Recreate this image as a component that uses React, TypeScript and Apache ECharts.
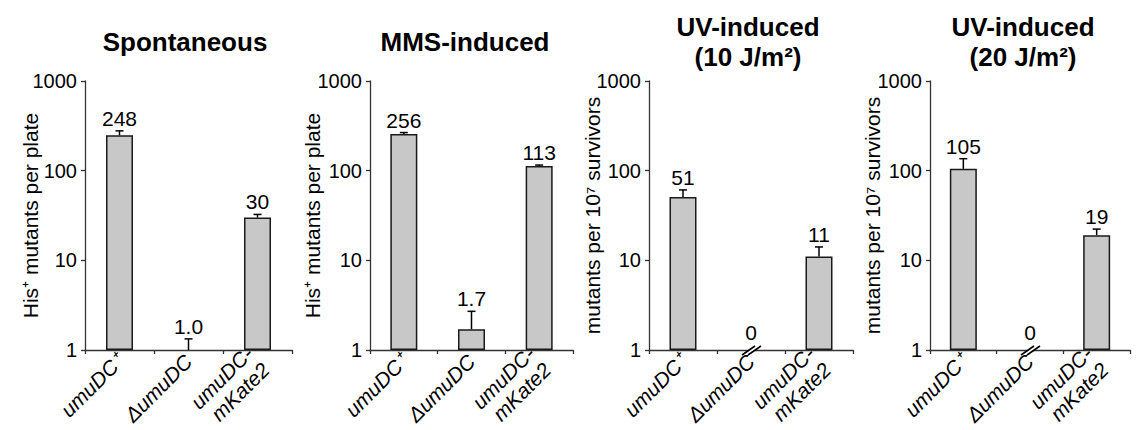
import React, { useEffect, useRef } from "react";
import * as echarts from "echarts";

// ---- data ----
const categories = ["umuDC⁺", "ΔumuDC", "umuDC-\nmKate2"];
const panelTitles = ["Spontaneous", "MMS-induced", "UV-induced\n(10 J/m²)", "UV-induced\n(20 J/m²)"];
const yAxisNames = [
  "His⁺ mutants per plate",
  "His⁺ mutants per plate",
  "mutants per 10⁷ survivors",
  "mutants per 10⁷ survivors",
];
const yTicks = [1, 10, 100, 1000];

const spontaneousValues = [248, 1.0, 30];
const spontaneousErrTop = [278, 1.33, 32.5];
const mmsValues = [256, 1.7, 113];
const mmsErrTop = [266, 2.7, 115.5];
const uv10Values = [51, 0, 11];
const uv10ErrTop = [61, 0, 14.1];
const uv20Values = [105, 0, 19];
const uv20ErrTop = [136, 0, 22.3];

const panelValues = [spontaneousValues, mmsValues, uv10Values, uv20Values];
const panelErrTop = [spontaneousErrTop, mmsErrTop, uv10ErrTop, uv20ErrTop];

// ---- layout ----
const FONT = "'Liberation Sans', Arial, Helvetica, sans-serif";
const gridLefts = [85, 370, 649, 930];
const gridWidths = [207, 203, 204, 200];
const nameGaps = [44, 47, 46, 47];
const titlePos = [
  [185, 42],
  [465, 42],
  [748, 42],
  [1023, 42],
];

function fmt(v: number): string {
  if (v === 0) return "0";
  if (v < 10) return v.toFixed(1);
  return String(Math.round(v));
}

export default function App() {
  const ref = useRef<HTMLDivElement>(null);
  useEffect(() => {
    if (!ref.current) return;
    const chart = echarts.init(ref.current, undefined, { renderer: "svg" });

    const grids = gridLefts.map((l, i) => ({
      left: l,
      top: 81,
      width: gridWidths[i],
      height: 269,
      containLabel: false,
      outerBoundsMode: "none",
    }));

    const xAxes = gridLefts.map((_, i) => ({
      type: "category",
      gridIndex: i,
      data: categories,
      axisLine: { lineStyle: { color: "#333", width: 1.3 } },
      axisTick: { show: true, length: 4, lineStyle: { color: "#333", width: 1.3 } },
      axisLabel: {
        interval: 0,
        rotate: 45,
        margin: 8,
        fontSize: 21,
        fontStyle: "italic",
        fontFamily: FONT,
        color: "#000",
        lineHeight: 23,
      },
    }));

    const yAxes = gridLefts.map((_, i) => ({
      type: "log",
      logBase: 10,
      gridIndex: i,
      min: yTicks[0],
      max: yTicks[yTicks.length - 1],
      name: yAxisNames[i],
      nameLocation: "middle",
      nameRotate: 90,
      nameGap: nameGaps[i],
      nameMoveOverlap: false,
      nameTextStyle: { fontSize: 21, fontFamily: FONT, color: "#000" },
      axisLine: { show: true, lineStyle: { color: "#333", width: 1.3 } },
      axisTick: { show: true, length: 4, lineStyle: { color: "#333", width: 1.3 } },
      axisLabel: {
        margin: 8,
        fontSize: 20,
        fontFamily: FONT,
        color: "#000",
        formatter: (v: number) => String(Math.round(v)),
      },
      splitLine: { show: false },
    }));

    const series: any[] = [];
    panelValues.forEach((vals, p) => {
      series.push({
        type: "bar",
        xAxisIndex: p,
        yAxisIndex: p,
        barWidth: 27,
        data: vals.map((v) => (v > 1 ? v : "-")),
        itemStyle: { color: "#c8c8c8", borderColor: "#1a1a1a", borderWidth: 1.5 },
        silent: true,
      });
      series.push({
        type: "custom",
        xAxisIndex: p,
        yAxisIndex: p,
        data: vals.map((v, i) => [i, v, panelErrTop[p][i]]),
        renderItem: (params: any, api: any) => {
          const idx = api.value(0);
          const v = api.value(1);
          const e = api.value(2);
          const textStyle = {
            fontSize: 21,
            fontFamily: FONT,
            fill: "#000",
            align: "center",
            verticalAlign: "bottom",
          };
          if (v === 0) {
            const base = api.coord([idx, 1]);
            const cx = base[0];
            const cy = base[1];
            return {
              type: "group",
              children: [
                {
                  type: "polygon",
                  shape: { points: [[cx - 9, cy + 5], [cx + 4, cy - 4], [cx + 10, cy - 4], [cx - 3, cy + 5]] },
                  style: { fill: "#fff" },
                },
                { type: "line", shape: { x1: cx - 9, y1: cy + 5, x2: cx + 4, y2: cy - 4 }, style: { stroke: "#000", lineWidth: 1.6 } },
                { type: "line", shape: { x1: cx - 3, y1: cy + 5, x2: cx + 10, y2: cy - 4 }, style: { stroke: "#000", lineWidth: 1.6 } },
                { type: "text", style: { ...textStyle, text: fmt(v), x: cx, y: cy - 7 } },
              ],
            };
          }
          const top = api.coord([idx, v]);
          const et = api.coord([idx, e]);
          const cx = top[0];
          return {
            type: "group",
            children: [
              { type: "line", shape: { x1: cx, y1: top[1], x2: cx, y2: et[1] }, style: { stroke: "#000", lineWidth: 1.5 } },
              { type: "line", shape: { x1: cx - 4, y1: et[1], x2: cx + 4, y2: et[1] }, style: { stroke: "#000", lineWidth: 1.5 } },
              { type: "text", style: { ...textStyle, text: fmt(v), x: cx, y: et[1] - 2 } },
            ],
          };
        },
        z: 5,
        silent: true,
      });
    });

    const graphic = panelTitles.map((t, i) => ({
      type: "text",
      x: titlePos[i][0],
      y: titlePos[i][1],
      style: {
        text: t,
        fontSize: 26,
        fontWeight: "bold",
        fontFamily: FONT,
        fill: "#000",
        align: "center",
        verticalAlign: "middle",
        lineHeight: 30,
      },
    }));

    chart.setOption({
      animation: false,
      backgroundColor: "#fff",
      grid: grids,
      xAxis: xAxes,
      yAxis: yAxes,
      series,
      graphic,
    });
    return () => chart.dispose();
  }, []);

  return (
    <div
      ref={ref}
      style={{ position: "fixed", left: 0, top: 0, width: 1136, height: 430, background: "#fff" }}
    />
  );
}
